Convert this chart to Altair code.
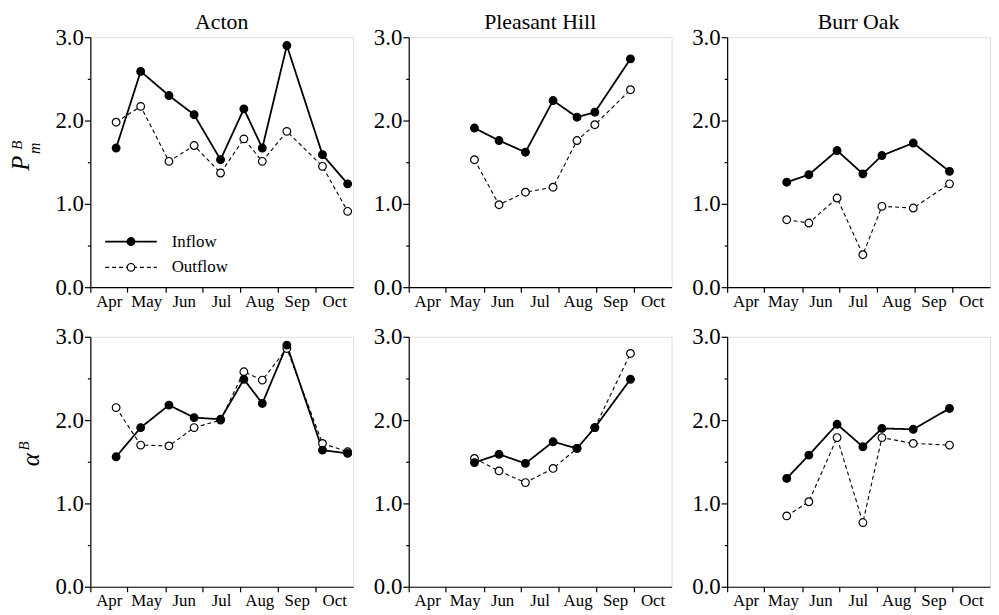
import altair as alt
import pandas as pd

# ---- axis categories ----
months = ["Apr", "May", "Jun", "Jul", "Aug", "Sep", "Oct"]
month_starts = [91, 121, 152, 182, 213, 244, 274]        # day of year, 1st of month
month_mids = [106, 136.5, 167, 197.5, 228.5, 259, 289.5]  # label positions
x_domain = [91, 305]
y_ticks = [0, 0.5, 1, 1.5, 2, 2.5, 3]

# ---- data (day of year, values) ----
acton_days = [112, 132, 155, 175.5, 197, 216, 231, 251, 280, 300.5]
acton_pm_in = [1.67, 2.59, 2.30, 2.07, 1.53, 2.14, 1.67, 2.90, 1.59, 1.24]
acton_pm_out = [1.98, 2.17, 1.51, 1.70, 1.37, 1.78, 1.51, 1.87, 1.45, 0.91]
acton_a_in = [1.56, 1.91, 2.18, 2.03, 2.01, 2.49, 2.20, 2.90, 1.64, 1.60]
acton_a_out = [2.15, 1.70, 1.69, 1.91, 2.00, 2.58, 2.48, 2.86, 1.72, 1.62]

ph_days = [144.5, 164.5, 186, 208.5, 228, 242.5, 271.5]
ph_pm_in = [1.91, 1.76, 1.62, 2.24, 2.04, 2.10, 2.74]
ph_pm_out = [1.53, 0.99, 1.14, 1.20, 1.76, 1.95, 2.37]
ph_a_in = [1.49, 1.59, 1.48, 1.74, 1.66, 1.91, 2.49]
ph_a_out = [1.54, 1.39, 1.25, 1.42, 1.66, 1.91, 2.80]

bo_days = [139.5, 157.5, 180.5, 201.5, 217, 242.5, 272]
bo_pm_in = [1.26, 1.35, 1.64, 1.36, 1.58, 1.73, 1.39]
bo_pm_out = [0.81, 0.77, 1.07, 0.39, 0.97, 0.95, 1.24]
bo_a_in = [1.30, 1.58, 1.95, 1.68, 1.90, 1.89, 2.14]
bo_a_out = [0.85, 1.02, 1.79, 0.77, 1.79, 1.72, 1.70]

series = ["Inflow", "Outflow"]
FONT = "Liberation Serif"
W, H = 265, 252

mids_js = "[" + ",".join(str(m) for m in month_mids) + "]"
names_js = "[" + ",".join("'%s'" % m for m in months) + "]"

xaxis = alt.Axis(
    values=month_starts + month_mids,
    labelExpr=f"indexof({mids_js}, datum.value) >= 0 ? {names_js}[indexof({mids_js}, datum.value)] : ''",
    tickOpacity={"condition": {"test": f"indexof({mids_js}, datum.value) >= 0", "value": 0}, "value": 1},
    tickSize=5, tickWidth=1.2, tickColor="black",
    domainColor="black", domainWidth=1.2,
    labelFont=FONT, labelFontSize=17, labelColor="black", labelPadding=1,
    labelOverlap=False, labelFlush=False, grid=False, title=None,
)
yaxis = alt.Axis(
    values=y_ticks,
    labelExpr="datum.value % 1 == 0 ? format(datum.value, '.1f') : ''",
    tickSize={"condition": {"test": "datum.value % 1 != 0", "value": 3}, "value": 6},
    tickWidth=1.2, tickColor="black",
    domainColor="black", domainWidth=1.2,
    labelFont=FONT, labelFontSize=23, labelColor="black", labelPadding=1,
    labelOverlap=False, labelFlush=False, grid=False, title=None,
)


def label_text(s, x, y, size, italic=True):
    return alt.Chart(pd.DataFrame({"a": [0]})).mark_text(
        text=s, angle=270, font=FONT, fontStyle="italic" if italic else "normal",
        fontSize=size, color="black", align="center", baseline="middle",
    ).encode(x=alt.value(x), y=alt.value(y))


def legend_layers():
    out = []
    for i, (name, dash, fill) in enumerate(zip(series, [[1, 0], [4, 3]], ["black", "white"])):
        yy = 206 + 26 * i
        d = pd.DataFrame({"a": [0]})
        out.append(alt.Chart(d).mark_rule(color="black", strokeWidth=1.8 if i == 0 else 1.1, strokeDash=dash)
                   .encode(x=alt.value(15), x2=alt.value(67), y=alt.value(yy)))
        out.append(alt.Chart(d).mark_point(shape="circle", filled=True, fill=fill, stroke="black",
                                           strokeWidth=1.2, size=60, opacity=1)
                   .encode(x=alt.value(41), y=alt.value(yy)))
        out.append(alt.Chart(d).mark_text(text=name, font=FONT, fontSize=17, color="black",
                                          align="left", baseline="middle")
                   .encode(x=alt.value(82), y=alt.value(yy)))
    return out


def panel(days, inflow, outflow, title=None, extras=()):
    n = len(days)
    df = pd.DataFrame({
        "day": days + days,
        "value": outflow + inflow,
        "series": ["Outflow"] * n + ["Inflow"] * n,
    })
    x = alt.X("day:Q", scale=alt.Scale(domain=x_domain, nice=False, zero=False), axis=xaxis)
    y = alt.Y("value:Q", scale=alt.Scale(domain=[0, 3], nice=False), axis=yaxis)
    base = alt.Chart(df)
    lines = base.mark_line(color="black").encode(
        x=x, y=y,
        strokeDash=alt.StrokeDash("series:N", scale=alt.Scale(domain=series, range=[[1, 0], [4, 3]]), legend=None),
        strokeWidth=alt.StrokeWidth("series:N", scale=alt.Scale(domain=series, range=[1.8, 1.1]), legend=None),
        detail="series:N",
    )
    points = base.mark_point(shape="circle", filled=True, stroke="black", strokeWidth=1.2,
                             size=60, opacity=1).encode(
        x=x, y=y,
        fill=alt.Fill("series:N", scale=alt.Scale(domain=series, range=["black", "white"]), legend=None),
    )
    props = dict(width=W, height=H)
    if title:
        props["title"] = alt.Title(title, font=FONT, fontSize=22, fontWeight="normal",
                                   color="black", offset=-8, anchor="middle")
    return alt.layer(lines, points, *extras).properties(**props)


pm_label = [label_text("P", -70, 127, 25), label_text("m", -56, 112, 16), label_text("B", -74, 109, 15)]
a_label = [label_text("α", -60, 124, 25), label_text("B", -67, 110, 15)]

panels = [
    panel(acton_days, acton_pm_in, acton_pm_out, "Acton", extras=pm_label + legend_layers()),
    panel(ph_days, ph_pm_in, ph_pm_out, "Pleasant Hill"),
    panel(bo_days, bo_pm_in, bo_pm_out, "Burr Oak"),
    panel(acton_days, acton_a_in, acton_a_out, extras=a_label),
    panel(ph_days, ph_a_in, ph_a_out),
    panel(bo_days, bo_a_in, bo_a_out),
]

chart = alt.concat(
    *panels, columns=3, spacing={"row": 50, "column": 56}, bounds="flush"
).properties(
    padding={"left": 0, "top": 0, "right": 0, "bottom": 0}
).configure_view(
    stroke="black", strokeWidth=1.2
).configure(background="white")

chart.save("out.html", embed_options={"renderer": "svg", "actions": False})
